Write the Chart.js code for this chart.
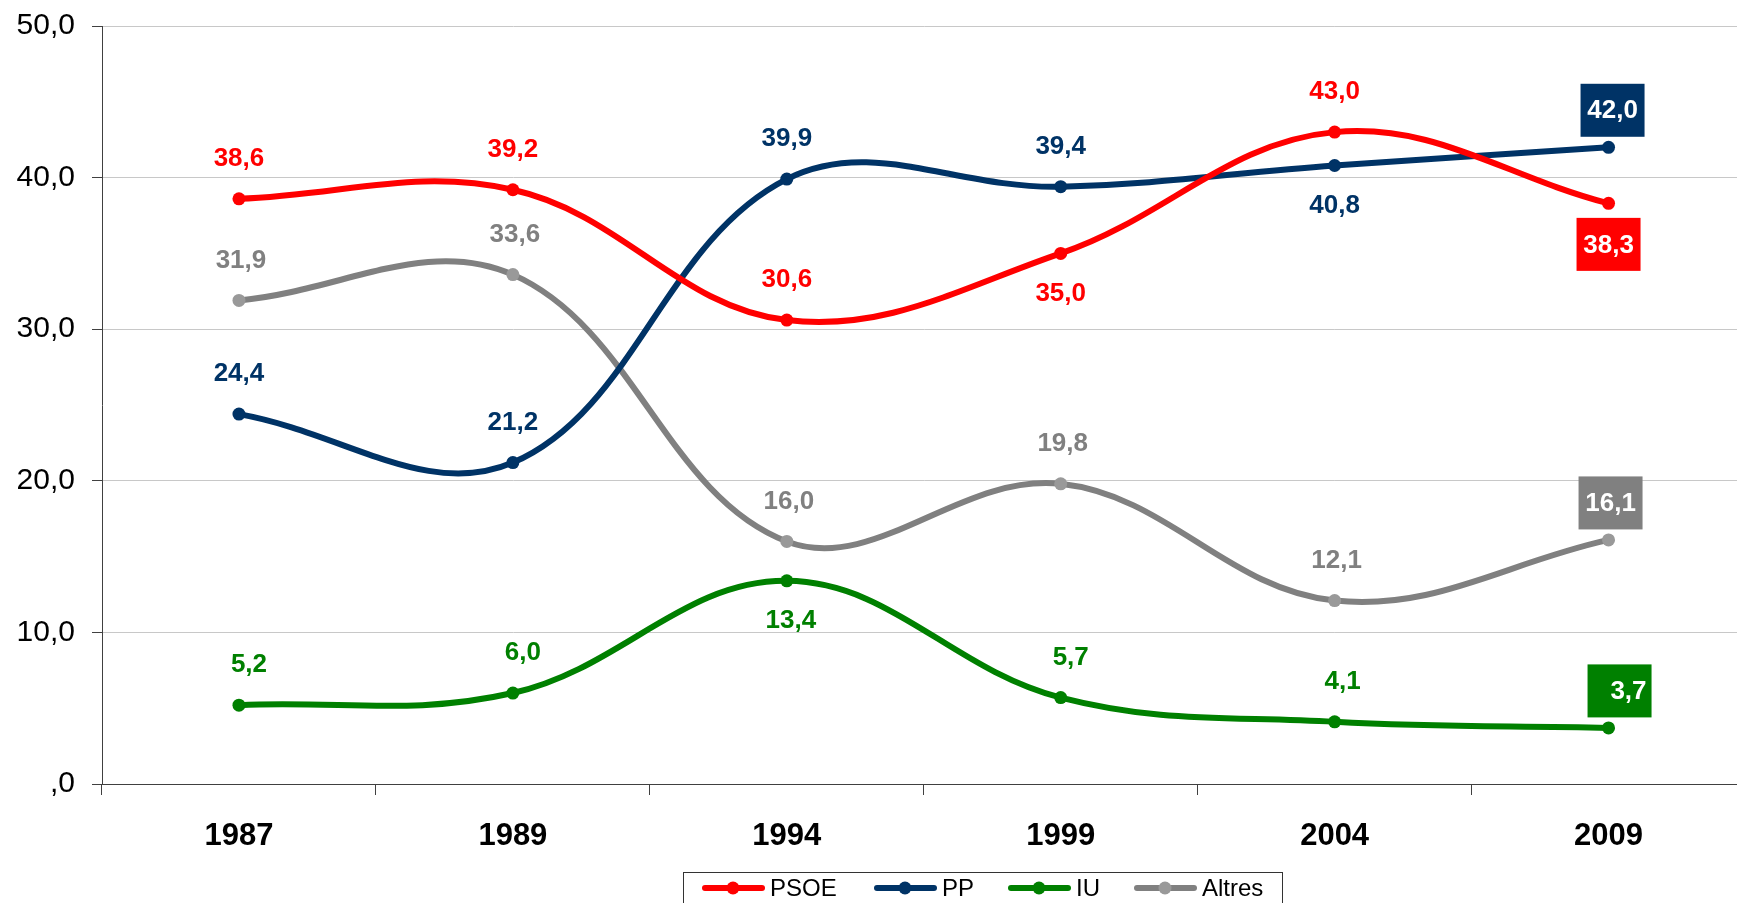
<!DOCTYPE html>
<html>
<head>
<meta charset="utf-8">
<script src="https://cdn.jsdelivr.net/npm/chart.js@4/dist/chart.umd.min.js"></script>
<style>
html,body{margin:0;padding:0;background:#fff;overflow:hidden;}
#wrap{width:1752px;height:903px;}
</style>
</head>
<body>
<div id="wrap"><canvas id="c" width="1752" height="903"></canvas></div>
<script>
const categories = ['1987', '1989', '1994', '1999', '2004', '2009'];
const psoeValues = [38.6, 39.2, 30.6, 35.0, 43.0, 38.3];
const ppValues = [24.4, 21.2, 39.9, 39.4, 40.8, 42.0];
const iuValues = [5.2, 6.0, 13.4, 5.7, 4.1, 3.7];
const altresValues = [31.9, 33.6, 16.0, 19.8, 12.1, 16.1];
const seriesNames = ['PSOE', 'PP', 'IU', 'Altres'];
const yTicks = [0, 10, 20, 30, 40, 50];

const colors = ['#ff0000', '#003366', '#008000', '#808080'];
const pointColors = ['#ff0000', '#003366', '#008000', '#999999'];

// label placement per series (a = above, b = below, A/B = boxed above/below)
const placement = [
  ['a','a','a','b','a','B'],
  ['a','a','a','a','b','A'],
  ['a','a','b','a','a','A'],
  ['a','a','a','a','a','A']
];
const labelDx = [
  [0,0,0,0,0,0],
  [0,0,0,0,0,4],
  [10,10,4,10,8,11],
  [2,2,2,2,2,2]
];

const fmt = v => v === 0 ? ',0' : v.toFixed(1).replace('.', ',');

const labelPlugin = {
  id: 'valueLabels',
  afterDatasetsDraw(chart) {
    const ctx = chart.ctx;
    ctx.save();
    ctx.font = 'bold 26px "Liberation Sans", Arial, sans-serif';
    ctx.textBaseline = 'middle';
    chart.data.datasets.forEach((ds, di) => {
      const meta = chart.getDatasetMeta(di);
      meta.data.forEach((pt, i) => {
        const txt = fmt(ds.data[i]);
        const p = placement[di][i];
        const dx = labelDx[di][i];
        if (p === 'a' || p === 'b') {
          ctx.fillStyle = colors[di];
          ctx.textAlign = 'center';
          ctx.fillText(txt, pt.x + dx, pt.y + (p === 'a' ? -40 : 40));
        } else {
          const cx = pt.x + dx;
          const cy = pt.y + (p === 'A' ? -37 : 41);
          const w = 64, h = 53;
          ctx.fillStyle = colors[di];
          ctx.fillRect(cx - w / 2, cy - h / 2, w, h);
          ctx.fillStyle = '#ffffff';
          if (di === 2) {
            ctx.textAlign = 'right';
            ctx.fillText(txt, cx + w / 2 - 5, cy + 1);
          } else {
            ctx.textAlign = 'center';
            ctx.fillText(txt, cx, cy + 1);
          }
        }
      });
    });
    ctx.restore();
  }
};

const legendPlugin = {
  id: 'boxLegend',
  afterDraw(chart) {
    const ctx = chart.ctx;
    ctx.save();
    const left = 683, top = 872, right = 1282, bottom = 920;
    ctx.strokeStyle = '#333';
    ctx.lineWidth = 1;
    ctx.strokeRect(left + 0.5, top + 0.5, right - left, bottom - top);
    const starts = [702, 874, 1008, 1134];
    const ly = 888;
    ctx.font = '24px "Liberation Sans", Arial, sans-serif';
    ctx.textBaseline = 'middle';
    ctx.textAlign = 'left';
    chart.data.datasets.forEach((ds, di) => {
      const x0 = starts[di];
      ctx.strokeStyle = colors[di];
      ctx.lineWidth = 6;
      ctx.lineCap = 'round';
      ctx.beginPath();
      ctx.moveTo(x0 + 3, ly);
      ctx.lineTo(x0 + 60, ly);
      ctx.stroke();
      ctx.fillStyle = pointColors[di];
      ctx.beginPath();
      ctx.arc(x0 + 31, ly, 6.5, 0, Math.PI * 2);
      ctx.fill();
      ctx.fillStyle = '#000';
      ctx.fillText(ds.label, x0 + 68, ly + 1);
    });
    ctx.restore();
  }
};

const allValues = [psoeValues, ppValues, iuValues, altresValues];

new Chart(document.getElementById('c'), {
  type: 'line',
  data: {
    labels: categories,
    datasets: allValues.map((vals, i) => ({
      label: seriesNames[i],
      data: vals,
      borderColor: colors[i],
      backgroundColor: pointColors[i],
      pointBackgroundColor: pointColors[i],
      pointBorderColor: pointColors[i],
      borderWidth: 6,
      pointRadius: 6.5,
      pointBorderWidth: 0,
      tension: 0.38,
      fill: false,
      borderCapStyle: 'round',
      borderJoinStyle: 'round'
    }))
  },
  options: {
    responsive: false,
    animation: false,
    devicePixelRatio: 1,
    layout: { padding: { left: 0, right: 0, top: 26, bottom: 0 } },
    plugins: { legend: { display: false }, tooltip: { enabled: false } },
    scales: {
      x: {
        type: 'category',
        offset: true,
        border: { color: '#404040', width: 1 },
        grid: { drawOnChartArea: false, offset: true, tickLength: 11, color: '#404040', tickColor: '#404040' },
        ticks: {
          padding: 23,
          color: '#000',
          font: { family: '"Liberation Sans", Arial, sans-serif', size: 31, weight: 'bold' }
        },
        afterFit(scale) { scale.height = 119; }
      },
      y: {
        min: 0,
        max: 50,
        afterBuildTicks(scale) { scale.ticks = yTicks.map(v => ({ value: v })); },
        border: { color: '#404040', width: 1 },
        grid: { color: '#c8c8c8', tickColor: '#404040', tickLength: 10, lineWidth: 1 },
        ticks: {
          padding: 17,
          color: '#000',
          font: { family: '"Liberation Sans", Arial, sans-serif', size: 30 },
          callback: v => fmt(v)
        },
        afterFit(scale) {
          scale.width = 102;
          scale.paddingTop = 0;
          scale.paddingBottom = 0;
        }
      }
    }
  },
  plugins: [labelPlugin, legendPlugin]
});
</script>
</body>
</html>
